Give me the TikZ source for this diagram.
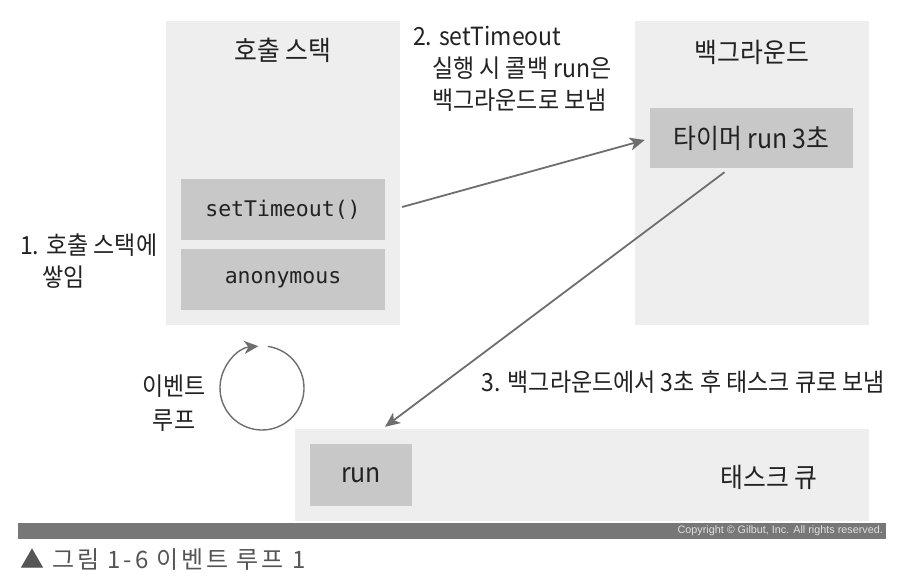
\documentclass[tikz,border=0pt]{standalone}
\usepackage{fontspec}
\setmainfont{Noto Sans CJK KR}[FakeStretch=0.92]
\setmonofont{DejaVu Sans Mono}
\newfontfamily\copyfont{Liberation Sans}
\newfontfamily\capfont{Noto Sans CJK KR}[LetterSpace=12]
\usepackage{tikz}
\usetikzlibrary{arrows.meta, positioning}
\definecolor{panelgray}{HTML}{EEEEEE}
\definecolor{boxgray}{HTML}{C8C8C8}
\definecolor{linegray}{HTML}{6E6E6E}
\definecolor{bargray}{HTML}{777777}
\definecolor{textgray}{HTML}{222222}
\definecolor{captiongray}{HTML}{555555}

\begin{document}
\begin{tikzpicture}[x=1pt, y=1pt,
    every node/.style={inner sep=0pt, text=textgray},
    panel/.style={fill=panelgray, minimum width=234pt, minimum height=304pt},
    title/.style={font=\fontsize{27}{30}\selectfont},
    codebox/.style={fill=boxgray, minimum width=204pt, minimum height=61pt, font=\ttfamily\fontsize{21.5}{24}\selectfont},
    box/.style={fill=boxgray, minimum height=61pt, font=\fontsize{27}{30}\selectfont},
    note/.style={align=left, font=\fontsize{25}{32}\selectfont},
    flow/.style={draw=linegray, line width=1.8pt, -{Stealth[length=15pt, width=13pt, inset=4pt]}}]

    \useasboundingbox (0,0) rectangle (901,584);

    % the three areas
    \node[panel] (stack) at (283,411) {};
    \node[panel] (bg) at (752,411) {};
    \node[panel, minimum width=574pt, minimum height=92pt] (queue) at (582,109) {};

    \node[title] (stacktitle) at (283,534) {호출 스택};
    \node[title] (bgtitle) at (752,532) {백그라운드};
    \node[title] (queuetitle) at (769,107) {태스크 큐};

    \node[codebox] (st) at (283,374.5) {setTimeout()};
    \node[codebox, below=9pt of st] (anon) {anonymous};
    \node[box, minimum width=203pt, minimum height=60pt] (timer) at (751.5,446) {타이머 run 3초};
    \node[box, minimum width=102pt, minimum height=62pt] (run) at (361,109) {run};

    % step notes
    \node[note, anchor=west] (note1) at (20,322.5) {1. 호출 스택에\\\hspace*{22pt}쌓임};
    \node[note, anchor=west] (note2) at (413,515.5) {2. setTimeout\\\hspace*{19pt}실행 시 콜백 run은\\\hspace*{19pt}백그라운드로 보냄};
    \node[note, anchor=east] (note3) at (885,202) {3. 백그라운드에서 3초 후 태스크 큐로 보냄};
    \node[note, align=center, font=\fontsize{25}{34}\selectfont] (looplabel) at (174,181) {이벤트\\루프};

    \path[flow] (st.east) ++(17,2.5) -- ([xshift=-5pt,yshift=-2pt]timer.west);
    \path[flow] ([xshift=-27pt,yshift=-4pt]timer.south) -- ([xshift=24pt,yshift=17pt]run.north);

    % event loop
    \coordinate (loop) at (262,196);
    \draw[draw=linegray, line width=1.4pt, -{Stealth[length=14pt, width=13pt, inset=4pt]}]
        ([shift={(82:42)}]loop) arc[start angle=82, end angle=-265, radius=42];

    % footer
    \node[fill=bargray, minimum width=868pt, minimum height=16pt] (bar) at (452,53) {};
    \node[anchor=east, text=white!88!black, font=\copyfont\fontsize{10.8}{12}\selectfont] (copyright) at (883,53) {Copyright © Gilbut, Inc. All rights reserved.};
    \node[anchor=west, text=captiongray, font=\capfont\fontsize{24}{28}\selectfont] (caption) at (20,24) {▲ 그림 1-6 이벤트 루프 1};
\end{tikzpicture}
\end{document}
